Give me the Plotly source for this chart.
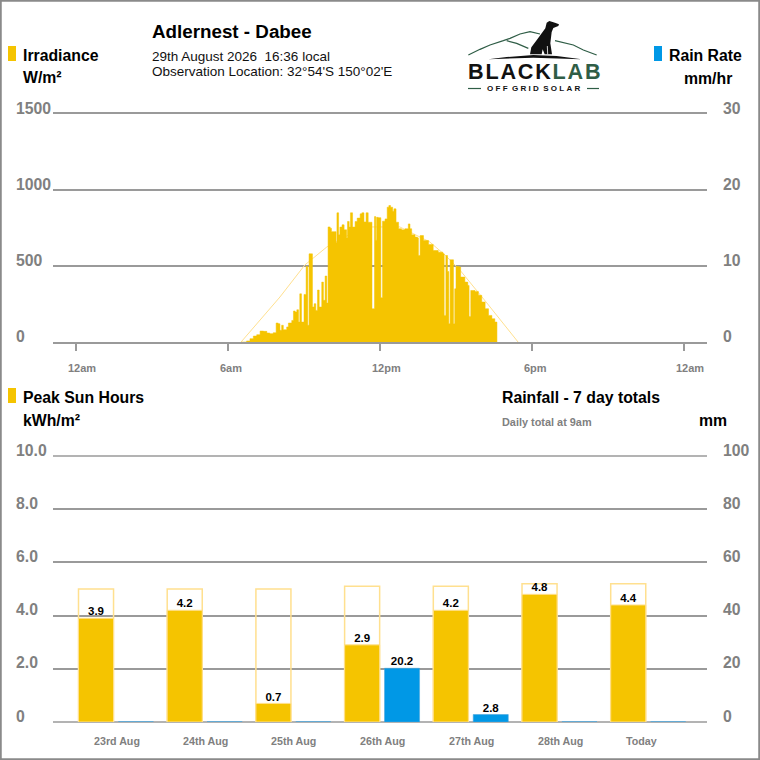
import plotly.graph_objects as go

# ---------- data ----------
irr_minutes = [392,404,412,420,428,436,444,452,459,467,474,479,483,487,491,499,503,511,515,519,523,527,530,534,
540,545,549,552,557,560,564,568,572,576,582,586,590,594,597,602,605,611,616,618,622,625,630,635,641,643,647,650,
655,661,666,673,677,682,687,692,698,701,705,707,710,712,716,720,722,725,726,732,737,741,745,750,753,758,764,771,
779,787,791,795,803,809,811,814,815,823,835,846,858,869,872,875,876,880,883,884,886,890,894,897,900,908,911,921,
928,931,933,935,945,953,961,969,977,985,992,997]
irr_watts = [0,7,22,39,48,72,70,59,55,61,125,120,77,110,81,99,125,142,204,197,212,131,317,131,
313,497,110,580,580,230,252,208,342,230,394,274,434,256,757,748,726,726,654,850,705,756,771,738,684,793,756,850,
756,793,815,843,850,790,850,788,788,219,219,825,670,820,818,818,291,291,795,810,887,898,887,861,876,788,745,738,
745,777,745,705,690,685,569,569,700,668,642,602,591,580,175,175,569,464,120,120,541,541,120,350,497,493,427,394,
372,168,168,339,333,307,263,219,175,153,131,0]
clear_minutes = [391,483,542,594,649,701,767,838,874,909,973,1047]
clear_watts = [0,296,507,625,710,757,757,658,572,474,257,0]

days = ["23rd Aug","24th Aug","25th Aug","26th Aug","27th Aug","28th Aug","Today"]
sun_hours = [3.9,4.2,0.7,2.9,4.2,4.8,4.4]
sun_potential = [5.0,5.0,5.0,5.1,5.1,5.2,5.2]
rain_mm = [0,0,0,20.2,2.8,0,0]

irr_ticks = [0,500,1000,1500]
rate_ticks = [0,10,20,30]
psh_ticks = [0,2,4,6,8,10]
psh_labels = ["0","2.0","4.0","6.0","8.0","10.0"]
mm_ticks = [0,20,40,60,80,100]
time_ticks = [0,360,720,1080,1440]
time_labels = ["12am","6am","12pm","6pm","12am"]

# ---------- style ----------
W = 760
YEL = "#F5C400"
YEL_L = "#FFE08F"
BLUE = "#0098E6"
BLUE_L = "#4AA6DE"
GRID = "#9A9A9A"
GREY = "#808080"
GREEN = "#2F5D46"
FONT = "Liberation Sans"
def px(x): return x / W
def py(y): return 1 - y / W

fig = go.Figure()
fig.add_trace(go.Scatter(x=clear_minutes, y=clear_watts, mode="lines", line=dict(color=YEL_L, width=1), xaxis="x", yaxis="y"))
fig.add_trace(go.Scatter(x=irr_minutes, y=irr_watts, mode="lines", line=dict(color=YEL, width=0.5, shape="hv"),
                         fill="tozeroy", fillcolor=YEL, xaxis="x", yaxis="y"))
fig.add_trace(go.Scatter(x=[0], y=[0], mode="lines", line=dict(color=BLUE), xaxis="x", yaxis="y3"))

idx = list(range(len(days)))
BW = 0.395
fig.add_trace(go.Bar(x=idx, y=sun_potential, width=BW, marker=dict(color="rgba(255,255,255,0)", line=dict(color=YEL_L, width=1.5)), xaxis="x2", yaxis="y2"))
fig.add_trace(go.Bar(x=idx, y=sun_hours, width=BW, marker=dict(color=YEL, line=dict(color=YEL_L, width=1)),
                     xaxis="x2", yaxis="y2"))
rain_x = [i + 0.45 for i in idx]
fig.add_trace(go.Bar(x=rain_x, y=rain_mm, width=BW, cliponaxis=False,
                     marker=dict(color=BLUE, line=dict(color=BLUE_L, width=[1 if v == 0 else 0.6 for v in rain_mm])),
                     xaxis="x2", yaxis="y4"))
fig.add_trace(go.Scatter(x=idx, y=sun_hours, mode="text", text=[f"{v:.1f}" for v in sun_hours], textposition="top center",
                         textfont=dict(family=FONT, size=11.5, color="#000000", weight="bold"), xaxis="x2", yaxis="y2"))
fig.add_trace(go.Scatter(x=rain_x, y=rain_mm, mode="text", text=[f"{v:.1f}" if v else "" for v in rain_mm], textposition="top center",
                         textfont=dict(family=FONT, size=11.5, color="#000000", weight="bold"), xaxis="x2", yaxis="y4"))

ann = []
def txt(x, y, t, size, color="#000000", bold=True):
    ann.append(dict(xref="paper", yref="paper", x=px(x), y=py(y), text=f"<b>{t}</b>" if bold else t, showarrow=False,
                    xanchor="left", yanchor="middle", borderpad=0, font=dict(family=FONT, size=size, color=color)))

txt(151, 31.5, "Adlernest - Dabee", 18.8)
txt(151, 56, "29th August 2026&nbsp;&nbsp;16:36 local", 13.5, "#111111", False)
txt(151, 71, "Observation Location: 32°54'S 150°02'E", 13.5, "#111111", False)
txt(22, 55.5, "Irradiance", 15.8)
txt(22, 78, "W/m²", 15.8)
txt(668, 55.5, "Rain Rate", 15.8)
txt(683, 78.5, "mm/hr", 15.8)
txt(22, 397.5, "Peak Sun Hours", 15.8)
txt(22, 420.5, "kWh/m²", 15.8)
txt(501, 397.5, "Rainfall - 7 day totals", 15.8)
txt(501, 422, "Daily total at 9am", 10.9, GREY)
txt(698, 420.5, "mm", 15.8)

# logo text
ts = "\u2009"
hs = "\u200a"
ann.append(dict(xref="paper", yref="paper", x=px(534), y=py(72), showarrow=False, xanchor="center", yanchor="middle", borderpad=0,
                text="<b>" + hs.join("BLACK") + hs + f'<span style="color:{GREEN}">' + hs.join("LAB") + "</span></b>",
                font=dict(family=FONT, size=21.6, color="#111111")))
gap = ts + hs
ann.append(dict(xref="paper", yref="paper", x=px(534), y=py(89), showarrow=False, xanchor="center", yanchor="middle", borderpad=0,
                text="<b>" + gap.join("OFF") + "  " + gap.join("GRID") + "  " + gap.join("SOLAR") + "</b>",
                font=dict(family=FONT, size=8, color="#111111")))

def axis_labels(vals, labels, yref, x):
    for v, l in zip(vals, labels):
        ann.append(dict(xref="paper", yref=yref, x=px(x), y=v, yshift=6, text=f"<b>{l}</b>", showarrow=False, xanchor="left",
                        yanchor="middle", borderpad=0, font=dict(family=FONT, size=15.8, color=GREY)))
axis_labels(irr_ticks, irr_ticks, "y", 14.5)
axis_labels(rate_ticks, rate_ticks, "y3", 721.5)
axis_labels(psh_ticks, psh_labels, "y2", 14.5)
axis_labels(mm_ticks, mm_ticks, "y4", 721.5)

for t, l in zip(time_ticks, time_labels):
    ann.append(dict(xref="x", yref="paper", x=t, y=py(368), xshift=-9, text=f"<b>{l}</b>", showarrow=False, xanchor="left",
                    yanchor="middle", borderpad=0, font=dict(family=FONT, size=11, color=GREY)))
for i, d in zip(idx, days):
    ann.append(dict(xref="x2", yref="paper", x=i, y=py(741), xshift=-3, text=f"<b>{d}</b>", showarrow=False, xanchor="left",
                    yanchor="middle", borderpad=0, font=dict(family=FONT, size=10.7, color=GREY)))

# decoration shapes in page pixels
def path(points, close=False):
    s = "M" + " L".join(f"{px(a):.5f},{py(b):.5f}" for a, b in points)
    return s + (" Z" if close else "")
def z(points):  # logo sketch coordinates
    return [(440 + a / 3, 10 + b / 3) for a, b in points]

shapes = [dict(type="rect", xref="paper", yref="paper", x0=0.001, x1=0.999, y0=0.001, y1=0.999, line=dict(color="#8A8A8A", width=2)),
          dict(type="rect", xref="paper", yref="paper", x0=px(8), x1=px(16), y0=py(61), y1=py(46), fillcolor=YEL, line_width=0),
          dict(type="rect", xref="paper", yref="paper", x0=px(654), x1=px(662), y0=py(61), y1=py(46), fillcolor=BLUE, line_width=0),
          dict(type="rect", xref="paper", yref="paper", x0=px(8), x1=px(16), y0=py(403), y1=py(388), fillcolor=YEL, line_width=0),
          dict(type="line", xref="paper", yref="paper", x0=px(53), x1=px(707), y0=py(722), y1=py(722), line=dict(color=GRID, width=1.5), layer="below"),
          dict(type="line", xref="paper", yref="paper", x0=px(53), x1=px(707), y0=py(456), y1=py(456), line=dict(color=GRID, width=1.5), layer="below")]
def pth(points, close=False, fill=None, color=None, width=1.2):
    d = dict(type="path", xref="paper", yref="paper", path=path(points, close))
    d["line"] = dict(color=color or "rgba(0,0,0,0)", width=width if color else 0)
    if fill:
        d["fillcolor"] = fill
    shapes.append(d)
pth(z([(85,135),(120,118),(150,105),(190,92),(210,85),(240,72),(270,65),(300,72)]), color=GREEN)
pth(z([(200,92),(230,100),(265,115)]), color=GREEN)
pth(z([(345,92),(400,105),(430,120),(470,135)]), color=GREEN)
pth(z([(145,148),(200,141),(280,135),(350,138),(425,148),(280,143)]), True, fill="#111111")
pth(z([(357,43),(345,38),(328,33),(320,38),(316,55),(292,88),(274,112),(270,133),(305,133),(308,118),(314,133),(336,133),(331,100),(335,66),(340,54),(355,48)]), True, fill="#111111")
pth(z([(322,108),(323,133)]), color="#FFFFFF", width=0.8)
pth([(468,88.5),(481,88.5)], color=GREEN)
pth([(587,88.5),(599,88.5)], color=GREEN)

hidden = dict(showticklabels=False, showgrid=False, zeroline=False, showline=False, fixedrange=True)
fig.update_layout(
    width=760, height=760, autosize=False, margin=dict(l=0, r=0, t=0, b=0), paper_bgcolor="white", plot_bgcolor="white",
    showlegend=False, barmode="overlay", hovermode=False, annotations=ann, shapes=shapes,
    xaxis=dict(domain=[px(53), px(707)], range=[-54.5, 1494.5], tickvals=time_ticks, ticks="outside", ticklen=7, tickcolor=GRID,
               tickwidth=1.5, showticklabels=False, showgrid=False, zeroline=False, anchor="y",
               showline=True, mirror=True, linecolor=GRID, linewidth=1.5, layer="below traces"),
    yaxis=dict(domain=[py(342), py(114)], range=[0, 1500], tickvals=irr_ticks, showticklabels=False, showgrid=True, gridcolor=GRID,
               gridwidth=1.5, zeroline=False, anchor="x"),
    yaxis3=dict(domain=[py(342), py(114)], range=[0, 30], overlaying="y", side="right", anchor="x", **hidden),
    xaxis2=dict(domain=[px(53), px(707)], range=[-0.485, 6.888], anchor="y2", **hidden),
    yaxis2=dict(domain=[py(722), py(456)], range=[0, 10], tickvals=psh_ticks, showticklabels=False, showgrid=True, gridcolor=GRID,
                gridwidth=1.5, zeroline=False, anchor="x2"),
    yaxis4=dict(domain=[py(722), py(456)], range=[0, 100], overlaying="y2", side="right", anchor="x2", **hidden),
)
fig.write_html("out.html", post_script="document.body.style.margin='0';document.body.style.overflow='hidden';",
               config=dict(displayModeBar=False))
